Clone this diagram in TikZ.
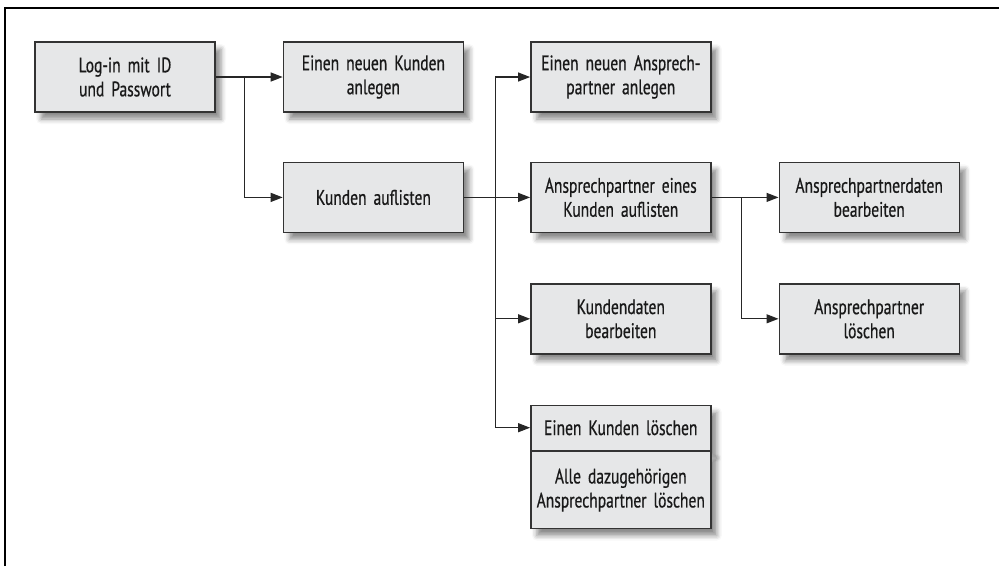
\documentclass[tikz,border=0pt]{standalone}
\usepackage{fontspec}
\setmainfont{PT Sans}[FakeStretch=0.74,FakeBold=0.6]
\usetikzlibrary{
	arrows.meta,
	positioning,
	calc,
	shadows.blur,
}
\definecolor{BoxGray}{HTML}{E6E7E8}
\definecolor{LineGray}{HTML}{333333}

\begin{document}
\begin{tikzpicture}[
				every node/.style={align=center,font=\fontsize{21}{24}\selectfont,text=black!90},
				block/.style={draw=LineGray,line width=1.4pt,fill=BoxGray,rectangle,text width=170pt,inner xsep=5pt,inner ysep=0pt,minimum height=70pt,
					blur shadow={shadow xshift=6pt,shadow yshift=-7pt,shadow blur radius=5pt,shadow opacity=45}},
				pfeil/.style={-{Triangle[length=12pt,width=9pt]},line width=1.2pt,draw=black!85},
			]
			\useasboundingbox (0,0) rectangle (999pt,-566pt);
			\draw[line width=2pt] (5pt,-566pt) -- (5pt,-8pt) -- (999pt,-8pt);

			\node (login) [block] at (125pt,-77pt) {Log-in mit ID\\und Passwort};
			\node (anlegen) [block,right=67pt of login] {Einen neuen Kunden\\anlegen};
			\node (auflisten) [block,below=49pt of anlegen] {Kunden auflisten};
			\node (apanlegen) [block,right=66pt of anlegen] {Einen neuen Ansprech-\\partner anlegen};
			\node (apliste) [block,right=66pt of auflisten] {Ansprechpartner eines\\Kunden auflisten};
			\node (kdbearb) [block,below=50pt of apliste] {Kundendaten\\bearbeiten};
			\node (kdloeschen) [block,below=50pt of kdbearb,minimum height=45pt] {Einen Kunden löschen};
			\node (alleloeschen) [block,below=0pt of kdloeschen,minimum height=77pt] {Alle dazugehörigen\\Ansprechpartner löschen};
			\node (apbearb) [block,right=67pt of apliste] {Ansprechpartnerdaten\\bearbeiten};
			\node (aploeschen) [block,below=50pt of apbearb] {Ansprechpartner\\löschen};

			% Verzweigungen
			\coordinate (ast1) at ($(login.east)!0.43!(anlegen.west)$);
			\coordinate (ast2) at ($(auflisten.east)!0.48!(apliste.west)$);
			\coordinate (ast3) at ($(apliste.east)!0.45!(apbearb.west)$);

			\draw[pfeil] (login) -- (anlegen);
			\draw[pfeil] (ast1) |- (auflisten);
			\draw[pfeil] (auflisten) -- (apliste);
			\draw[pfeil] (ast2) |- (apanlegen.west);
			\draw[pfeil] (ast2) |- (kdbearb.west);
			\draw[pfeil] (ast2) |- (kdloeschen.west);
			\draw[pfeil] (apliste) -- (apbearb);
			\draw[pfeil] (ast3) |- (aploeschen.west);
		\end{tikzpicture}
\end{document}
